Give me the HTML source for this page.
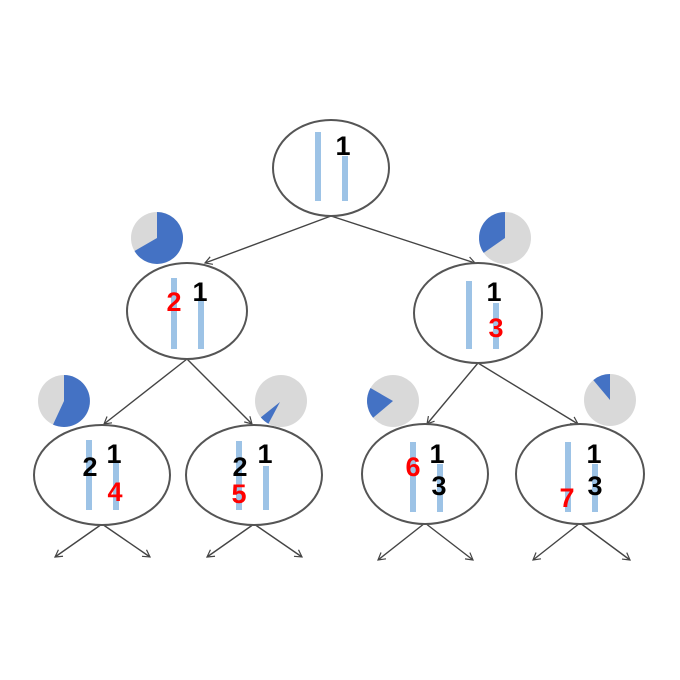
<!DOCTYPE html>
<html><head><style>
html,body{margin:0;padding:0;background:#fff;}
svg{display:block;}
text{font-family:"Liberation Sans",Arial,sans-serif;font-weight:bold;font-size:27px;}
</style></head><body>
<svg width="680" height="680" viewBox="0 0 680 680" xmlns="http://www.w3.org/2000/svg">
<defs>
<marker id="ar" markerWidth="10" markerHeight="10" refX="8" refY="5" orient="auto" markerUnits="userSpaceOnUse">
<path d="M1,1 L8,5 L1,9" fill="none" stroke="#444" stroke-width="1.2"/>
</marker>
</defs>
<g stroke="#444" stroke-width="1.4" fill="none">
<line x1="331" y1="216" x2="205" y2="263" marker-end="url(#ar)"/>
<line x1="331" y1="216" x2="475" y2="263" marker-end="url(#ar)"/>
<line x1="187" y1="359" x2="104" y2="424" marker-end="url(#ar)"/>
<line x1="187" y1="359" x2="252" y2="424" marker-end="url(#ar)"/>
<line x1="478" y1="363" x2="427" y2="424" marker-end="url(#ar)"/>
<line x1="478" y1="363" x2="578" y2="424" marker-end="url(#ar)"/>
<line x1="102" y1="524" x2="55" y2="557" marker-end="url(#ar)"/>
<line x1="102" y1="524" x2="150" y2="557" marker-end="url(#ar)"/>
<line x1="254" y1="524" x2="207" y2="557" marker-end="url(#ar)"/>
<line x1="254" y1="524" x2="302" y2="557" marker-end="url(#ar)"/>
<line x1="425" y1="523" x2="378" y2="560" marker-end="url(#ar)"/>
<line x1="425" y1="523" x2="473" y2="560" marker-end="url(#ar)"/>
<line x1="580" y1="523" x2="533" y2="560" marker-end="url(#ar)"/>
<line x1="580" y1="523" x2="630" y2="560" marker-end="url(#ar)"/>
</g>
<g stroke="#555" stroke-width="2" fill="#fff">
<ellipse cx="331" cy="168" rx="58" ry="48"/>
<ellipse cx="187" cy="311" rx="60" ry="48"/>
<ellipse cx="478" cy="313" rx="64" ry="50"/>
<ellipse cx="102" cy="475" rx="68" ry="50"/>
<ellipse cx="254" cy="475" rx="68" ry="50"/>
<ellipse cx="425" cy="474" rx="63" ry="50"/>
<ellipse cx="580" cy="474" rx="64" ry="50"/>
</g>
<g>
<circle cx="157" cy="238" r="26" fill="#d9d9d9"/>
<path d="M157,238 L157,212 A26,26 0 1 1 134.5,251 Z" fill="#4472c4"/>
<circle cx="505" cy="238" r="26" fill="#d9d9d9"/>
<path d="M505,238 L483.7,252.9 A26,26 0 0 1 505,212 Z" fill="#4472c4"/>
<circle cx="64" cy="401" r="26" fill="#d9d9d9"/>
<path d="M64,401 L64,375 A26,26 0 1 1 53,424.6 Z" fill="#4472c4"/>
<circle cx="281" cy="401" r="26" fill="#d9d9d9"/>
<path d="M280,402 L268.4,423.7 A26,26 0 0 1 260.8,417.4 Z" fill="#4472c4"/>
<circle cx="393" cy="401" r="26" fill="#d9d9d9"/>
<path d="M393,401 L373.1,417.7 A26,26 0 0 1 370.5,388 Z" fill="#4472c4"/>
<circle cx="610" cy="400" r="26" fill="#d9d9d9"/>
<path d="M610,400 L593.3,380.1 A26,26 0 0 1 610,374 Z" fill="#4472c4"/>
</g>
<g fill="#9dc3e6">
<rect x="315" y="132" width="6" height="69"/>
<rect x="342" y="156" width="6" height="45"/>
<rect x="171" y="278" width="6" height="71"/>
<rect x="198" y="298" width="6" height="51"/>
<rect x="466" y="281" width="6" height="68"/>
<rect x="493" y="303" width="6" height="46"/>
<rect x="86" y="440" width="6" height="70"/>
<rect x="113" y="462" width="6" height="48"/>
<rect x="236" y="441" width="6" height="69"/>
<rect x="263" y="466" width="6" height="44"/>
<rect x="410" y="442" width="6" height="70"/>
<rect x="437" y="464" width="6" height="48"/>
<rect x="565" y="442" width="6" height="70"/>
<rect x="592" y="464" width="6" height="48"/>
</g>
<g text-anchor="middle">
<text x="343" y="155" fill="#000">1</text>
<text x="174" y="311" fill="#f00">2</text>
<text x="200" y="301" fill="#000">1</text>
<text x="494" y="301" fill="#000">1</text>
<text x="496" y="337" fill="#f00">3</text>
<text x="90" y="476" fill="#000">2</text>
<text x="114" y="463" fill="#000">1</text>
<text x="115" y="501" fill="#f00">4</text>
<text x="240" y="476" fill="#000">2</text>
<text x="265" y="463" fill="#000">1</text>
<text x="239" y="503" fill="#f00">5</text>
<text x="413" y="476" fill="#f00">6</text>
<text x="437" y="463" fill="#000">1</text>
<text x="439" y="495" fill="#000">3</text>
<text x="567" y="507" fill="#f00">7</text>
<text x="594" y="463" fill="#000">1</text>
<text x="595" y="495" fill="#000">3</text>
</g>
</svg>
</body></html>
